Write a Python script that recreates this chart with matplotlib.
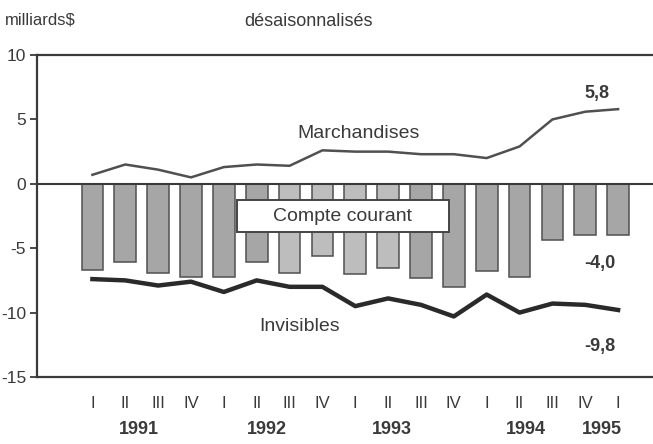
import numpy as np
import matplotlib.pyplot as plt
from matplotlib.patches import Rectangle

plt.rcParams['font.family'] = ['Liberation Sans', 'DejaVu Sans']

quarters = ['I', 'II', 'III', 'IV', 'I', 'II', 'III', 'IV', 'I', 'II', 'III', 'IV',
            'I', 'II', 'III', 'IV', 'I']
compte_courant = [-6.7, -6.1, -6.9, -7.2, -7.2, -6.1, -6.9, -5.6, -7.0, -6.5, -7.3, -8.0,
                  -6.8, -7.2, -4.4, -4.0, -4.0]
marchandises = [0.7, 1.5, 1.1, 0.5, 1.3, 1.5, 1.4, 2.6, 2.5, 2.5, 2.3, 2.3,
                2.0, 2.9, 5.0, 5.6, 5.8]
invisibles = [-7.4, -7.5, -7.9, -7.6, -8.4, -7.5, -8.0, -8.0, -9.5, -8.9, -9.4, -10.3,
              -8.6, -10.0, -9.3, -9.4, -9.8]
years = ['1991', '1992', '1993', '1994', '1995']
year_pos = [1.4, 5.3, 9.1, 13.2, 15.5]

ink = '#3a3a3a'
x = np.arange(len(quarters))

fig = plt.figure(figsize=(6.53, 4.44), dpi=100)
ax = fig.add_axes([0.057, 0.151, 0.96, 0.725])

colors = ['#a6a6a6'] * len(x)
for i in range(6, 10):
    colors[i] = '#bdbdbd'
ax.bar(x, compte_courant, width=0.66, color=colors, edgecolor='#505050', linewidth=1.1, zorder=2)
ax.axhline(0, color=ink, lw=1.5, zorder=3)
ax.plot(x, marchandises, color='#505050', lw=1.8, zorder=4)
ax.plot(x, invisibles, color='#2a2a2a', lw=3.2, zorder=4)

ax.set_xlim(-1.68, 17.4)
ax.set_ylim(-15, 10)
ax.set_yticks([10, 5, 0, -5, -10, -15])
ax.set_yticklabels(['10', '5', '0', '-5', '-10', '-15'])
ax.tick_params(axis='y', length=5, width=1.3, color=ink, labelcolor=ink, labelsize=12.5, pad=3)
ax.set_xticks(x)
ax.set_xticklabels(quarters)
ax.tick_params(axis='x', length=0, labelcolor=ink, labelsize=12, pad=14)
for s in ax.spines.values():
    s.set_color(ink)
    s.set_linewidth(1.6)
ax.spines['right'].set_visible(False)

for yr, p in zip(years, year_pos):
    ax.text(p, -19.1, yr, ha='center', va='center', fontsize=13, fontweight='bold', color=ink)

ax.text(8.1, 3.9, 'Marchandises', ha='center', va='center', fontsize=14, color=ink)
ax.text(6.3, -11.1, 'Invisibles', ha='center', va='center', fontsize=14, color=ink)
ax.add_patch(Rectangle((4.4, -3.75), 6.45, 2.5, fc='white', ec='#444444', lw=1.4, zorder=5))
ax.text(7.6, -2.5, 'Compte courant', ha='center', va='center', fontsize=14, color=ink, zorder=6)
ax.text(15.35, 7.0, '5,8', ha='center', va='center', fontsize=13, fontweight='bold', color=ink)
ax.text(15.45, -6.2, '-4,0', ha='center', va='center', fontsize=13, fontweight='bold', color=ink)
ax.text(15.45, -12.6, '-9,8', ha='center', va='center', fontsize=13, fontweight='bold', color=ink)

fig.text(0.008, 0.955, 'milliards$', ha='left', va='center', fontsize=12, color=ink)
fig.text(0.472, 0.952, 'désaisonnalisés', ha='center', va='center', fontsize=13, color=ink)

fig.savefig('out.png', dpi=100)
